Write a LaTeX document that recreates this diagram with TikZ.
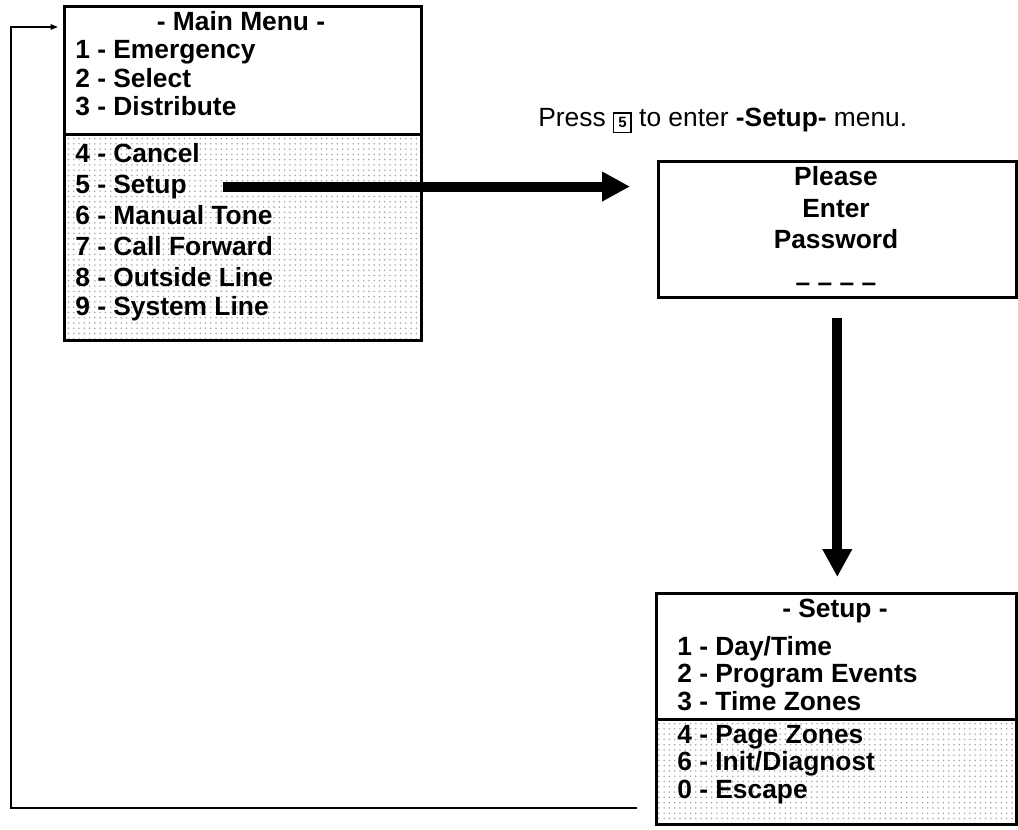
\documentclass[tikz,border=0pt]{standalone}
\usepackage{fontspec}
\setmainfont{Liberation Sans}
\usetikzlibrary{arrows.meta,patterns}

\newcommand{\presskey}[1]{{\setlength{\fboxsep}{2.2pt}\setlength{\fboxrule}{0.8pt}\raisebox{-1pt}{\fbox{\fontsize{8.5}{8.5}\selectfont\bfseries #1}}}}

\begin{document}
\begin{tikzpicture}[x=0.02cm, y=-0.02cm,
  every node/.style={font=\fontsize{15}{18}\selectfont},
  panel/.style={draw, line width=1.5pt, anchor=north west, inner sep=0pt},
  lowpanel/.style={panel, pattern=dots, pattern color=black!35},
  item/.style={anchor=base west, inner sep=0pt, font=\fontsize{15}{18}\selectfont\bfseries},
  menutitle/.style={item, anchor=base},
  bigarrow/.style={line width=0.2cm, -{Triangle[length=0.56cm, width=0.56cm]}},
  backline/.style={line width=0.9pt, -{Triangle[length=0.15cm, width=0.11cm]}}]
  \useasboundingbox (0,0) rectangle (1018,829);
  % main menu, password prompt and setup menu
  \node[panel, minimum width=7.14cm, minimum height=2.56cm] (mainTop) at (63,5) {};
  \node[lowpanel, minimum width=7.14cm, minimum height=4.12cm] (mainLow) at (63,133) {};
  \node[panel, minimum width=7.16cm, minimum height=2.72cm] (pass) at (657,160) {};
  \node[panel, minimum width=7.2cm, minimum height=2.52cm] (setupTop) at (655,592) {};
  \node[lowpanel, minimum width=7.2cm, minimum height=2.1cm] (setupLow) at (655,718) {};

  \node[menutitle] (mainHead) at (241,30) {- Main Menu -};
  \foreach \n/\y/\t in {1/58/Emergency, 2/87/Select, 3/115/Distribute,
                        4/162/Cancel, 5/193/Setup, 6/224/Manual Tone,
                        7/255/Call Forward, 8/286/Outside Line, 9/315/System Line}
    \node[item] (main\n) at (75,\y) {\n\ - \t};

  \node[anchor=base west, inner sep=0pt] (press) at (538,126)
    {Press \presskey{5}\ to enter \textbf{-Setup-} menu.};
  \foreach \k/\y/\t in {1/185/Please, 2/217/Enter, 3/248/Password, 4/291/{– – – –}}
    \node[menutitle] (pass\k) at (836,\y) {\t};

  \node[menutitle] (setupHead) at (835,617) {- Setup -};
  \foreach \n/\y/\t in {1/655/{Day/Time}, 2/682/Program Events, 3/710/Time Zones,
                        4/743/Page Zones, 6/770/{Init/Diagnost}, 0/798/Escape}
    \node[item] (setup\n) at (677,\y) {\n\ - \t};

  \draw[bigarrow, shorten >=0.54cm] ([xshift=0.72cm]main5.east) -- (main5.east -| pass.west);
  \draw[bigarrow, shorten <=0.38cm, shorten >=0.3cm] (pass.south) -- (pass.south |- setupTop.north);

  \coordinate (ret) at (637,808);
  \coordinate (entry) at ([yshift=-0.44cm]mainTop.north west);
  \draw[backline, shorten >=0.1cm] (ret) -| (11,27) -- (entry);
\end{tikzpicture}
\end{document}
